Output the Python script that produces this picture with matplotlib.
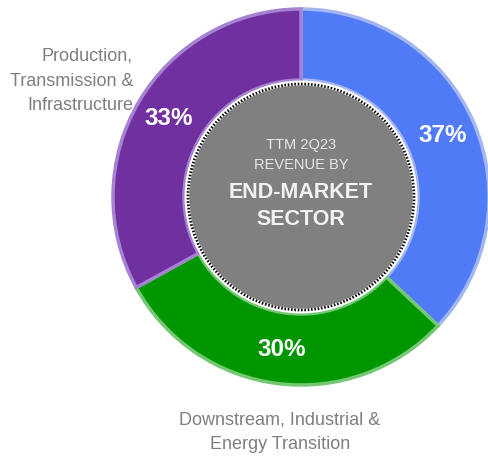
import matplotlib
matplotlib.use("Agg")
import matplotlib.pyplot as plt
from matplotlib.patches import Circle

# revenue share by end-market sector (TTM 2Q23)
sectors = ["Infrastructure & Communications", "Downstream, Industrial &\nEnergy Transition",
           "Production,\nTransmission &\nInfrastructure"]
shares = [37, 30, 33]
fills = ["#4f7bf7", "#009600", "#7030a0"]
edges = ["#a3b6f2", "#74c874", "#a582d2"]

center_lines = ["TTM 2Q23", "REVENUE BY", "END-MARKET", "SECTOR"]

plt.rcParams['font.family'] = ['Liberation Sans', 'DejaVu Sans']

fig = plt.figure(figsize=(4.88, 4.61), dpi=100)
ax = fig.add_axes([0, 0, 1, 1])

cx, cy = 301, 264
wedges, texts, autotexts = ax.pie(
    shares, colors=fills, radius=188, center=(cx, cy), startangle=90,
    counterclock=False, autopct='%.0f%%', pctdistance=0.82,
    wedgeprops=dict(width=71, linewidth=2.5),
    textprops=dict(color='white', fontsize=17.5, fontweight='bold'))
for w, ec in zip(wedges, edges):
    w.set_edgecolor(ec)

# grey hub with dotted rim
ax.add_patch(Circle((cx, cy), 114, facecolor='#808080', edgecolor='white', linewidth=3.5, zorder=3))
ax.add_patch(Circle((cx, cy), 113, facecolor='none', edgecolor='#111111', linewidth=2,
                    linestyle=(0, (0.6, 0.6)), zorder=4))

ax.text(cx, cy + 52, center_lines[0], ha='center', va='center', color='#e8e8e8', fontsize=10.5, zorder=5)
ax.text(cx, cy + 32, center_lines[1], ha='center', va='center', color='#e8e8e8', fontsize=10.5, zorder=5)
ax.text(cx, cy + 5, center_lines[2], ha='center', va='center', color='#f2f2f2', fontsize=15.5,
        fontweight='bold', zorder=5)
ax.text(cx, cy - 23, center_lines[3], ha='center', va='center', color='#f2f2f2', fontsize=15.5,
        fontweight='bold', zorder=5)

ax.text(133, 380, sectors[2], ha='right', va='center', color='#7f7f7f', fontsize=13,
        linespacing=1.6)
ax.text(280, 29, sectors[1], ha='center', va='center', color='#7f7f7f', fontsize=13,
        linespacing=1.6)

ax.set_xlim(0, 488)
ax.set_ylim(0, 461)
ax.set_aspect('equal')
ax.set_axis_off()

plt.savefig("out.png", dpi=100)
